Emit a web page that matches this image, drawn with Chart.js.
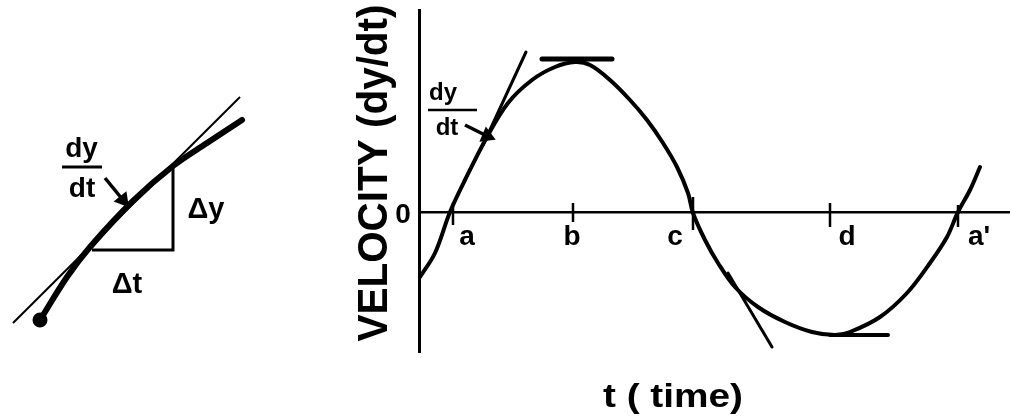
<!DOCTYPE html>
<html><head><meta charset="utf-8">
<script src="https://cdn.jsdelivr.net/npm/chart.js@4.4.1/dist/chart.umd.min.js"></script>
<style>
html,body{margin:0;padding:0;background:#fff;}
#wrap{position:relative;width:1010px;height:419px;overflow:hidden;background:#fff;}
#main{position:absolute;left:0;top:0;}
#side{position:absolute;left:0;top:60px;}
</style></head><body>
<div id="wrap"><canvas id="main" width="1010" height="419"></canvas><canvas id="side" width="300" height="300"></canvas></div>
<script>
// ---------- main chart data (t = time units, v = velocity units) ----------
const tValues  = [0.1,1.6,3.1,4.6,6.8,8.9,11.3,13.6,15.6,17.1,19.1,21.1,22.8,24.4,25.8,26.9,27.4,28.6,29.9,31.6,33.9,36.6,39.3,41.6,43.1,46.1,48.8,51.1,52.8,53.9,55.1,56.1];
const velocity = [-6.5,-4.1,0,3.2,7.5,10.9,13.2,14.5,15.0,14.7,13.2,11.2,9.2,6.9,4.5,1.9,-0.1,-2.8,-5.1,-7.5,-9.5,-11.0,-12.0,-12.3,-12.0,-10.5,-8.1,-5.1,-2.5,0,2.2,4.5];
const tangentT = [[6.4,10.7],[12.3,19.3],[30.9,35.3],[41.1,46.9]];
const tangentV = [[6.7,16.0],[15.3,15.3],[-6.1,-13.5],[-12.3,-12.3]];
const tickT      = [3.4,15.4,27.4,41.1,53.9];
const tickTop    = [0.9,0.9,1.5,0.9,0.7];
const tickBottom = [-1.3,-1.0,-1.8,-1.5,-1.5];
const tickLabels = ['a','b','c','d',"a'"];
const tickLabelT = [4.8,15.3,25.6,42.8,56.0];
const fracBarT = [0.9,5.8];
const fracBarV = [10.2,10.2];
const arrowT = [4.6,6.8];
const arrowV = [8.7,7.6];

// ---------- inset diagram data ----------
const secantX = [1.3,24.0];
const secantY = [3.7,26.3];
const curveX = [4.0,6.7,9.0,13.3,17.3,20.7,24.2];
const curveY = [4.0,8.3,11.3,15.9,19.4,21.7,24.0];
const triX = [9.2,17.3,17.3];
const triY = [11.0,11.0,19.2];
const insetBarX = [6.2,10.2];
const insetBarY = [19.3,19.3];
const insetArrowX = [10.5,12.3];
const insetArrowY = [18.2,16.0];

const FONT = '"Liberation Sans", Arial, sans-serif';
const pts = (xs, ys) => xs.map((x, i) => ({x, y: ys[i]}));

function drawText(ctx, item) {
  ctx.save();
  ctx.font = 'bold ' + item.size + 'px ' + FONT;
  ctx.fillStyle = '#000';
  ctx.textAlign = 'center';
  ctx.textBaseline = item.baseline || 'alphabetic';
  ctx.translate(item.px, item.py);
  if (item.rotate) ctx.rotate(item.rotate);
  if (item.fit) {
    const w = ctx.measureText(item.text).width;
    ctx.scale(item.fit / w, 1);
  }
  ctx.fillText(item.text, 0, 0);
  ctx.restore();
}

const mainTextPlugin = {
  id: 'mainText',
  afterDatasetsDraw(chart) {
    const {ctx, scales: {x, y}} = chart;
    const P = (t, v) => [x.getPixelForValue(t), y.getPixelForValue(v)];
    let p = P(-1.6, -1.1);
    drawText(ctx, {text: '0', px: p[0], py: p[1], size: 28});
    tickLabels.forEach((lab, i) => {
      const q = P(tickLabelT[i], -3.3);
      drawText(ctx, {text: lab, px: q[0], py: q[1], size: 28});
    });
    p = P(2.4, 11.2); drawText(ctx, {text: 'dy', px: p[0], py: p[1], size: 24});
    p = P(2.8, 7.7);  drawText(ctx, {text: 'dt', px: p[0], py: p[1], size: 24});
    p = P(-4.4, 3.9);
    drawText(ctx, {text: 'VELOCITY (dy/dt)', px: p[0], py: p[1], size: 42, baseline: 'middle', rotate: -Math.PI / 2, fit: 337});
    p = P(25.4, -18.6);
    drawText(ctx, {text: 't ( time)', px: p[0], py: p[1], size: 34, baseline: 'middle', fit: 140});
  }
};

const lineDS = (data, width, extra) => Object.assign({
  data, showLine: true, borderColor: '#000', backgroundColor: '#000',
  borderWidth: width, pointRadius: 0, tension: 0, borderCapStyle: 'butt'
}, extra || {});

const tickData = [];
tickT.forEach((t, i) => {
  tickData.push({x: t, y: tickBottom[i]}, {x: t, y: tickTop[i]}, {x: t, y: null});
});

new Chart(document.getElementById('main'), {
  type: 'scatter',
  data: {
    datasets: [
      lineDS(pts(tValues, velocity), 4, {tension: 0.35, borderCapStyle: 'round'}),
      lineDS(pts(tangentT[0], tangentV[0]), 3, {borderCapStyle: 'round'}),
      lineDS(pts(tangentT[1], tangentV[1]), 5, {borderCapStyle: 'round'}),
      lineDS(pts(tangentT[2], tangentV[2]), 3, {borderCapStyle: 'round'}),
      lineDS(pts(tangentT[3], tangentV[3]), 4, {borderCapStyle: 'round'}),
      lineDS(tickData, 2.5, {spanGaps: false}),
      lineDS(pts(fracBarT, fracBarV), 2.5),
      lineDS(pts(arrowT, arrowV), 3.5, {pointRadius: [0, 6], pointStyle: 'triangle', rotation: [0, 113]})
    ]
  },
  options: {
    responsive: false, animation: false, devicePixelRatio: 1,
    layout: {autoPadding: false, padding: {left: 419, right: 0, top: 10, bottom: 67}},
    plugins: {legend: {display: false}, tooltip: {enabled: false}},
    scales: {
      x: {type: 'linear', min: 0, max: 59.1, position: {y: 0},
          ticks: {display: false}, grid: {display: false, drawTicks: false},
          border: {display: true, color: '#000', width: 2.5}},
      y: {type: 'linear', min: -14, max: 20.2, position: 'left',
          ticks: {display: false}, grid: {display: false, drawTicks: false},
          border: {display: true, color: '#000', width: 3}}
    }
  },
  plugins: [mainTextPlugin]
});

const sideTextPlugin = {
  id: 'sideText',
  afterDatasetsDraw(chart) {
    const {ctx, scales: {x, y}} = chart;
    const P = (a, b) => [x.getPixelForValue(a), y.getPixelForValue(b)];
    let p;
    p = P(8.15, 20.3); drawText(ctx, {text: 'dy', px: p[0], py: p[1], size: 28});
    p = P(8.2, 16.3);  drawText(ctx, {text: 'dt', px: p[0], py: p[1], size: 28});
    p = P(20.6, 14.2); drawText(ctx, {text: 'Δy', px: p[0], py: p[1], size: 29});
    p = P(12.7, 6.7);  drawText(ctx, {text: 'Δt', px: p[0], py: p[1], size: 29});
  }
};

new Chart(document.getElementById('side'), {
  type: 'scatter',
  data: {
    datasets: [
      lineDS(pts(secantX, secantY), 2),
      lineDS(pts(curveX, curveY), 6, {tension: 0.35, borderCapStyle: 'round', pointRadius: [4.5,0,0,0,0,0,0]}),
      lineDS(pts(triX, triY), 3),
      lineDS(pts(insetBarX, insetBarY), 3),
      lineDS(pts(insetArrowX, insetArrowY), 3.5, {pointRadius: [0, 6], pointStyle: 'triangle', rotation: [0, 141]})
    ]
  },
  options: {
    responsive: false, animation: false, devicePixelRatio: 1,
    layout: {autoPadding: false, padding: 0},
    plugins: {legend: {display: false}, tooltip: {enabled: false}},
    scales: {
      x: {type: 'linear', min: 0, max: 30, display: false},
      y: {type: 'linear', min: 0, max: 30, display: false}
    }
  },
  plugins: [sideTextPlugin]
});
</script>
</body></html>
